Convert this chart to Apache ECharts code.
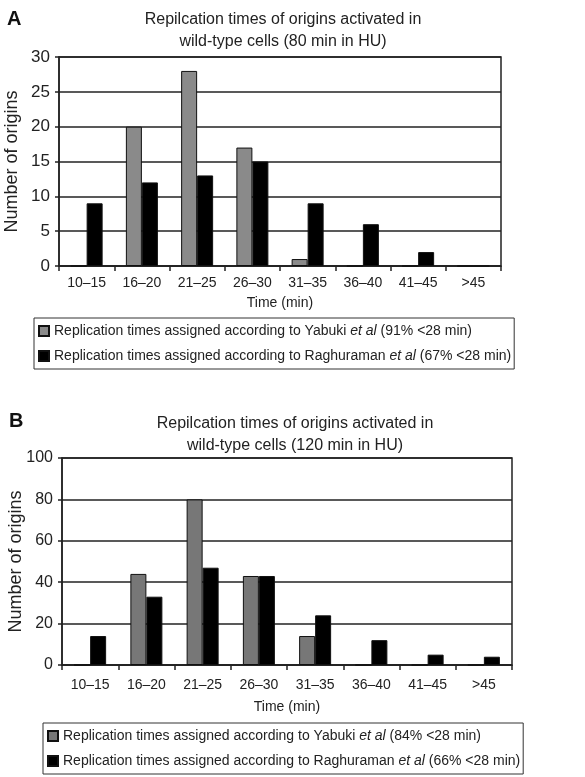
<!DOCTYPE html>
<html>
<head>
<meta charset="utf-8">
<script src="https://cdn.jsdelivr.net/npm/echarts@6/dist/echarts.min.js"></script>
<style>html,body{margin:0;padding:0;background:#fff}#c{width:585px;height:777px}</style>
</head>
<body>
<div id="c"></div>
<script>
const categories = ['10\u201315','16\u201320','21\u201325','26\u201330','31\u201335','36\u201340','41\u201345','>45'];
const yabukiA = [0, 20, 28, 17, 1, 0, 0, 0];
const raghuramanA = [9, 12, 13, 15, 9, 6, 2, 0];
const yabukiB = [0, 44, 80, 43, 14, 0, 0, 0];
const raghuramanB = [14, 33, 47, 43, 24, 12, 5, 4];
const yTicksA = {min: 0, max: 30, interval: 5};
const yTicksB = {min: 0, max: 100, interval: 20};
const nameYA = 'Replication times assigned according to Yabuki et al (91% <28 min)';
const nameRA = 'Replication times assigned according to Raghuraman et al (67% <28 min)';
const nameYB = 'Replication times assigned according to Yabuki et al (84% <28 min)';
const nameRB = 'Replication times assigned according to Raghuraman et al (66% <28 min)';

const FF = "'Liberation Sans', Arial, sans-serif";
const TC = '#222';
const chart = echarts.init(document.getElementById('c'));

function xAx(gi, labelMargin, nameGap) {
  return {
    type: 'category', gridIndex: gi, data: categories,
    name: 'Time (min)', nameLocation: 'middle', nameGap: nameGap, nameMoveOverlap: false,
    nameTextStyle: {fontFamily: FF, fontSize: 14, color: TC},
    axisLine: {lineStyle: {color: '#222', width: 1.5}},
    axisTick: {show: true, alignWithLabel: false, length: 5, lineStyle: {color: '#222', width: 1.5}},
    axisLabel: {fontFamily: FF, fontSize: 14, color: TC, margin: labelMargin, interval: 0},
    splitLine: {show: false}
  };
}
function yAx(gi, t, nameGap, labelSize) {
  return {
    type: 'value', gridIndex: gi, min: t.min, max: t.max, interval: t.interval,
    name: 'Number of origins', nameLocation: 'middle', nameGap: nameGap, nameRotate: 90, nameMoveOverlap: false,
    nameTextStyle: {fontFamily: FF, fontSize: 18, color: TC},
    axisLine: {show: true, lineStyle: {color: '#222', width: 1.5}},
    axisTick: {show: true, length: 4, lineStyle: {color: '#222', width: 1.5}},
    axisLabel: {fontFamily: FF, fontSize: labelSize, color: TC, margin: 9},
    splitLine: {show: true, lineStyle: {color: '#222', width: 1.5}}
  };
}
function legendFmt(name) {
  const parts = name.split('et al');
  return '{n|' + parts[0] + '}{i|et al}{n|' + parts[1] + '}';
}
function legend(top, left, data) {
  return {
    data: data, orient: 'vertical', left: left, top: top, icon: 'rect',
    itemWidth: 10, itemHeight: 10, itemGap: 11,
    borderColor: '#333', borderWidth: 1, padding: [6, 3, 6, 4],
    formatter: legendFmt,
    textStyle: {
      fontFamily: FF, fontSize: 14, color: TC,
      rich: {n: {fontFamily: FF, fontSize: 14, color: TC}, i: {fontFamily: FF, fontSize: 14, color: TC, fontStyle: 'italic'}}
    }
  };
}
function bar(name, data, gi, color) {
  return {
    name: name, type: 'bar', xAxisIndex: gi, yAxisIndex: gi, data: data,
    barWidth: 16, barGap: '0%',
    itemStyle: {color: color, borderColor: '#111', borderWidth: 1}
  };
}

chart.setOption({
  animation: false,
  backgroundColor: '#fff',
  title: [
    {text: 'A', left: 2, top: 4, textStyle: {fontFamily: FF, fontSize: 20, fontWeight: 'bold', color: '#111'}},
    {text: 'Repilcation times of origins activated in\nwild-type cells (80 min in HU)', left: 278, top: 4, textAlign: 'center',
      textStyle: {fontFamily: FF, fontSize: 16, fontWeight: 'normal', color: TC, lineHeight: 22}},
    {text: 'B', left: 4, top: 406, textStyle: {fontFamily: FF, fontSize: 20, fontWeight: 'bold', color: '#111'}},
    {text: 'Repilcation times of origins activated in\nwild-type cells (120 min in HU)', left: 290, top: 408, textAlign: 'center',
      textStyle: {fontFamily: FF, fontSize: 16, fontWeight: 'normal', color: TC, lineHeight: 22}}
  ],
  grid: [
    {left: 59, right: 84, top: 57, height: 209, show: true, borderColor: '#222', borderWidth: 1.5, backgroundColor: 'transparent', containLabel: false, outerBoundsMode: 'none'},
    {left: 62, right: 73, top: 458, height: 207, show: true, borderColor: '#222', borderWidth: 1.5, backgroundColor: 'transparent', containLabel: false, outerBoundsMode: 'none'}
  ],
  xAxis: [xAx(0, 10, 30), xAx(1, 13, 35)],
  yAxis: [yAx(0, yTicksA, 38, 17), yAx(1, yTicksB, 37, 16)],
  legend: [legend(318, 34, [nameYA, nameRA]), legend(723, 43, [nameYB, nameRB])],
  series: [
    bar(nameYA, yabukiA, 0, '#8a8a8a'),
    bar(nameRA, raghuramanA, 0, '#000'),
    bar(nameYB, yabukiB, 1, '#777'),
    bar(nameRB, raghuramanB, 1, '#000')
  ]
});
</script>
</body>
</html>
